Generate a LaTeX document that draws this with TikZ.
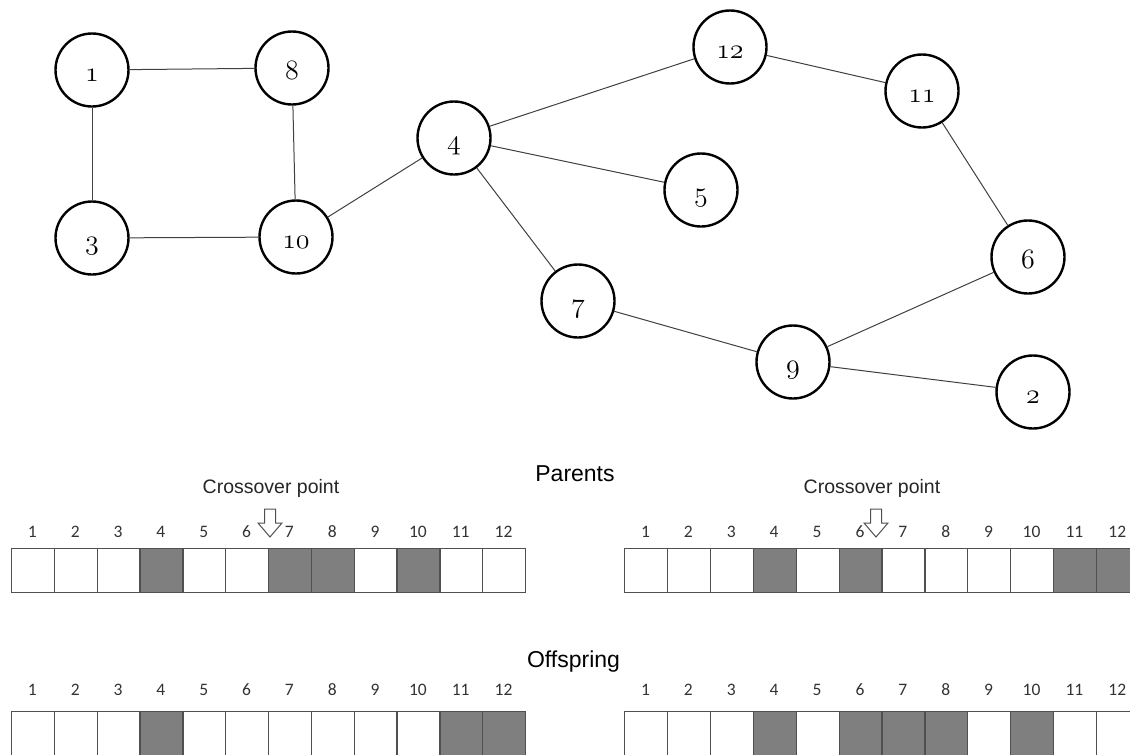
\documentclass[tikz,border=0pt]{standalone}
\usepackage{fontspec}
\newfontfamily\headfont{Liberation Sans}
\newfontfamily\indexfont{Carlito}
\definecolor{gene}{HTML}{7F7F7F}
\definecolor{rim}{HTML}{505050}

% old-style figures taken straight from the math italic font
\font\osfnum=cmmi12 at 28pt

% one chromosome: name, left x, cell width, top y, baseline of the index row, 0/1 pattern
\newcommand\generow[6]{%
  \foreach[count=\i] \s in {#6}{%
    \ifnum\s=1 \def\col{gene}\else\def\col{white}\fi
    \node[cell,fill=\col,minimum width=#3pt,anchor=north west] (#1\i) at ({#2+(\i-1)*#3},#4) {};
    \node[idx] (#1n\i) at ({#2+(\i-0.5)*#3},#5) {\i};
  }%
}

\begin{document}
\begin{tikzpicture}[x=1pt,y=-1pt,
  vertex/.style={circle,draw=black,line width=2.4pt,minimum size=73pt,inner sep=0pt,
    text height=22pt,text depth=0pt,font=\osfnum},
  edge/.style={draw=black!75,line width=1pt},
  cell/.style={draw=rim,line width=1.2pt,minimum height=44pt,inner sep=0pt},
  idx/.style={anchor=base,inner sep=0pt,font=\indexfont\fontsize{17.5}{20}\selectfont,text=black!80},
  title/.style={anchor=base,inner sep=0pt,font=\headfont\fontsize{23}{26}\selectfont},
  note/.style={anchor=base,inner sep=0pt,font=\headfont\fontsize{19.5}{22}\selectfont,text=black!85},
  hollow/.style={draw=rim,fill=white,line width=1pt,line join=miter}]

\clip (0,0) rectangle (1130,755);
\fill[white] (0,0) rectangle (1130,755);

% graph
\node[vertex] (n1)  at (92,70)    {1};
\node[vertex] (n8)  at (292,68)   {8};
\node[vertex] (n3)  at (92,238)   {3};
\node[vertex] (n10) at (296,237)  {10};
\node[vertex] (n4)  at (454,138)  {4};
\node[vertex] (n12) at (730,47)   {12};
\node[vertex] (n11) at (922,91)   {11};
\node[vertex] (n5)  at (701,190)  {5};
\node[vertex] (n6)  at (1028,257) {6};
\node[vertex] (n7)  at (578,301)  {7};
\node[vertex] (n9)  at (793,362)  {9};
\node[vertex] (n2)  at (1033,392) {2};

\foreach \a/\b in {n1/n8,n1/n3,n8/n10,n3/n10,n10/n4,n4/n12,n4/n5,n4/n7,
                   n12/n11,n11/n6,n6/n9,n7/n9,n9/n2}
  \path[edge] (\a) -- (\b);

% titles
\node[title] (parents) at (575,481) {Parents};
\node[title] (offspring) at (573.5,667) {Offspring};
\node[note] (cpA) at (271,493) {Crossover point};
\node[note] (cpB) at (872,493) {Crossover point};

% crossover markers
\coordinate (mkA) at (270,509);
\coordinate (mkB) at (876,509);
\foreach \m in {mkA,mkB}
  \draw[hollow,shift={(\m)}] (-5.5,0) -- (5.5,0) -- (5.5,14) -- (12,14) -- (0,28)
        -- (-12,14) -- (-5.5,14) -- cycle;

% chromosomes
\generow{pa}{11}{42.83}{548}{537}{0,0,0,1,0,0,1,1,0,1,0,0}
\generow{pb}{624}{42.9}{548}{537}{0,0,0,1,0,1,0,0,0,0,1,1}
\generow{oa}{11}{42.83}{711}{695}{0,0,0,1,0,0,0,0,0,0,1,1}
\generow{ob}{624}{42.9}{711}{695}{0,0,0,1,0,1,1,1,0,1,0,0}
\end{tikzpicture}
\end{document}
